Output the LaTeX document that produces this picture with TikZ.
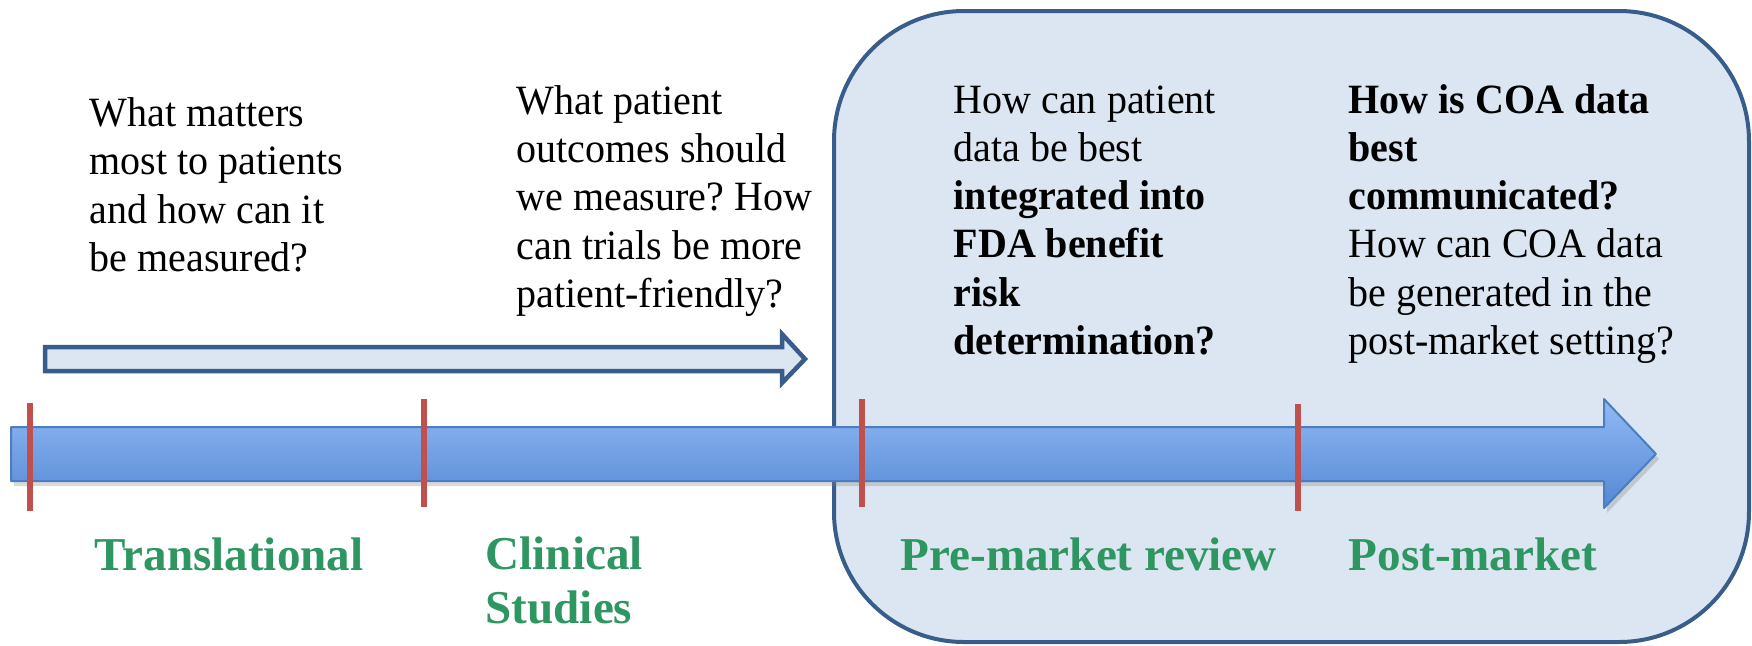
\documentclass[tikz,border=0pt]{standalone}
\usepackage{fontspec}
\setmainfont{Liberation Serif}
\newfontfamily\hepchu{Liberation Serif}[FakeStretch=0.96]
\usetikzlibrary{shadows}
\definecolor{khungnen}{RGB}{220,230,242}
\definecolor{khungvien}{RGB}{56,93,138}
\definecolor{vachdo}{RGB}{192,80,77}
\definecolor{chuxanh}{RGB}{46,150,96}
\definecolor{truclen}{RGB}{146,185,245}
\definecolor{trucxuong}{RGB}{84,136,212}
\definecolor{trucvien}{RGB}{74,126,193}
\frenchspacing
\begin{document}
\begin{tikzpicture}[x=0.1mm, y=-0.1mm, line join=round, line cap=round,
	cauhoi/.style={anchor=base west, align=left, inner sep=0pt, font=\hepchu\fontsize{11.86}{13.66}\selectfont},
	giaidoan/.style={anchor=base west, align=left, inner sep=0pt, text=chuxanh, font=\fontsize{13.4}{15.1}\selectfont\bfseries}]
	% Khung hình
	\useasboundingbox (0,0) rectangle (1752,645);
	
	% Khung bo góc (giai đoạn FDA)
	\draw[line width=0.4mm, draw=khungvien, fill=khungnen, rounded corners=1.3cm] (834,11) rectangle (1749,642);
	
	% Mũi tên rỗng
	\draw[line width=0.45mm, draw=khungvien, fill=khungnen, line cap=butt, line join=miter] (45,347) -- (782,347) -- (782,334) -- (805,359) -- (782,383) -- (782,371) -- (45,371) -- cycle;
	
	% Trục thời gian
	\draw[trucvien, line width=0.2mm, top color=truclen, bottom color=trucxuong, drop shadow={opacity=0.3, shadow xshift=0.3mm, shadow yshift=-0.5mm}] (11,427) -- (1604,427) -- (1604,399) -- (1656,454) -- (1604,508) -- (1604,481) -- (11,481) -- cycle;
	
	% Vạch chia
	\foreach \x/\ytren/\yduoi in {30/403/511, 424/399/507, 862/399/507, 1298/404/511}
		\draw[vachdo, line width=0.65mm, line cap=butt] (\x,\ytren) -- (\x,\yduoi);
	
	% Câu hỏi (đặt theo dòng cuối)
	\node[cauhoi] (hoi1) at (89,271) {What matters\\most to patients\\and how can it\\be measured?};
	\node[cauhoi] (hoi2) at (516,307) {What patient\\outcomes should\\we measure? How\\can trials be more\\patient-friendly?};
	\node[cauhoi] (hoi3) at (953,354) {How can patient\\data be best\\\textbf{integrated into}\\\textbf{FDA benefit}\\\textbf{risk}\\\textbf{determination?}};
	\node[cauhoi] (hoi4) at (1348,354) {\textbf{How is COA data}\\\textbf{best}\\\textbf{communicated?}\\How can COA data\\be generated in the\\post-market setting?};
	
	% Tên giai đoạn
	\node[giaidoan] (gd1) at (94,570) {Translational};
	\node[giaidoan] (gd2) at (485,623) {Clinical\\Studies};
	\node[giaidoan] (gd3) at (900,570) {Pre-market review};
	\node[giaidoan] (gd4) at (1348,570) {Post-market};
\end{tikzpicture}
\end{document}
